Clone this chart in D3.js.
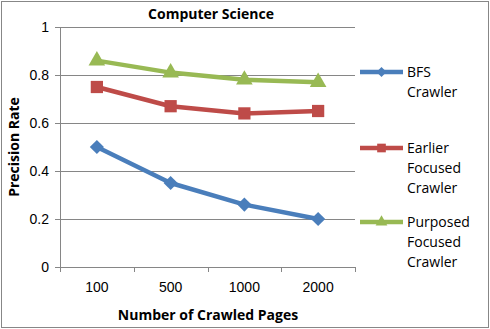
<!DOCTYPE html>
<html>
<head>
<meta charset="utf-8">
<script src="https://cdn.jsdelivr.net/npm/d3@7"></script>
<style>
  body { margin: 0; background: #fff; }
  svg { font-family: "Open Sans", "Liberation Sans", sans-serif; }
</style>
</head>
<body>
<svg id="chart" width="490" height="329"></svg>
<script>
// chart data
const pages = ['100', '500', '1000', '2000'];
const bfsCrawler = [0.5, 0.35, 0.26, 0.2];
const earlierFocused = [0.75, 0.67, 0.64, 0.65];
const purposedFocused = [0.86, 0.81, 0.78, 0.77];
const yTicks = [0, 0.2, 0.4, 0.6, 0.8, 1];

const series = [
  {name: ['BFS', 'Crawler'], values: bfsCrawler, color: '#4A7EBB', marker: d3.symbolSquare, rotate: 45, size: 100},
  {name: ['Earlier', 'Focused', 'Crawler'], values: earlierFocused, color: '#BE4B48', marker: d3.symbolSquare, rotate: 0, size: 150},
  {name: ['Purposed', 'Focused', 'Crawler'], values: purposedFocused, color: '#98B954', marker: d3.symbolTriangle, rotate: 0, size: 120}
];

const svg = d3.select('#chart');
const margin = {left: 60, top: 27, right: 135, bottom: 62};
const width = 490 - margin.left - margin.right;
const height = 329 - margin.top - margin.bottom;

// outer border
svg.append('rect')
  .attr('x', 1.5).attr('y', 1.5)
  .attr('width', 487).attr('height', 326)
  .attr('fill', 'none')
  .attr('stroke', '#878787')
  .attr('stroke-width', 1);

const plot = svg.append('g')
  .attr('transform', `translate(${margin.left}, ${margin.top})`);

const x = d3.scaleBand().domain(pages).range([0, width]);
const y = d3.scaleLinear().domain([0, 1]).range([height, 0]);

// gridlines
plot.append('g')
  .selectAll('line')
  .data(yTicks.filter(t => t > 0))
  .join('line')
    .attr('x1', 0).attr('x2', width)
    .attr('y1', d => Math.round(y(d)) + 0.5).attr('y2', d => Math.round(y(d)) + 0.5)
    .attr('stroke', '#868686');

// axes
const yAxis = plot.append('g')
  .call(d3.axisLeft(y).tickValues(yTicks).tickFormat(d3.format('~g')).tickSize(5).tickPadding(6));
const xAxis = plot.append('g')
  .attr('transform', `translate(0, ${height})`)
  .call(d3.axisBottom(x).tickSize(0).tickPadding(15));

[yAxis, xAxis].forEach(ax => {
  ax.select('.domain').attr('stroke', '#868686');
  ax.selectAll('.tick line').attr('stroke', '#868686');
  ax.selectAll('.tick text').attr('fill', '#000').style('font-size', '14px');
});

// category boundary ticks on x axis
plot.append('g')
  .selectAll('line')
  .data(pages.map(p => x(p)).concat([width]))
  .join('line')
    .attr('x1', d => Math.round(d) + 0.5).attr('x2', d => Math.round(d) + 0.5)
    .attr('y1', height).attr('y2', height + 5)
    .attr('stroke', '#868686');

// lines and markers
const line = d3.line()
  .x((d, i) => x(pages[i]) + x.bandwidth() / 2)
  .y(d => y(d));

series.forEach(s => {
  plot.append('path')
    .datum(s.values)
    .attr('d', line)
    .attr('fill', 'none')
    .attr('stroke', s.color)
    .attr('stroke-width', 4.5)
    .attr('stroke-linejoin', 'round');

  plot.append('g')
    .selectAll('path')
    .data(s.values)
    .join('path')
      .attr('transform', (d, i) => `translate(${x(pages[i]) + x.bandwidth() / 2}, ${y(d)}) rotate(${s.rotate})`)
      .attr('d', d3.symbol().type(s.marker).size(s.size))
      .attr('fill', s.color);
});

// titles
svg.append('text')
  .attr('x', 211).attr('y', 19)
  .attr('text-anchor', 'middle')
  .style('font-size', '14px').style('font-weight', 'bold')
  .text('Computer Science');

svg.append('text')
  .attr('x', 208).attr('y', 320)
  .attr('text-anchor', 'middle')
  .style('font-size', '14px').style('font-weight', 'bold')
  .text('Number of Crawled Pages');

svg.append('text')
  .attr('transform', 'translate(19, 147) rotate(-90)')
  .attr('text-anchor', 'middle')
  .style('font-size', '14px').style('font-weight', 'bold')
  .text('Precision Rate');

// legend
const legendTop = [72, 148, 222];
series.forEach((s, i) => {
  const g = svg.append('g').attr('transform', `translate(360, ${legendTop[i]})`);
  g.append('line')
    .attr('x1', 0).attr('x2', 43)
    .attr('stroke', s.color).attr('stroke-width', 4.5);
  g.append('path')
    .attr('transform', `translate(21.5, 0) rotate(${s.rotate})`)
    .attr('d', d3.symbol().type(s.marker).size(s.size * 0.5))
    .attr('fill', s.color);
  g.append('text')
    .style('font-size', '14px')
    .selectAll('tspan')
    .data(s.name)
    .join('tspan')
      .attr('x', 47)
      .attr('y', (d, j) => j * 20 + 5)
      .text(d => d);
});
</script>
</body>
</html>
